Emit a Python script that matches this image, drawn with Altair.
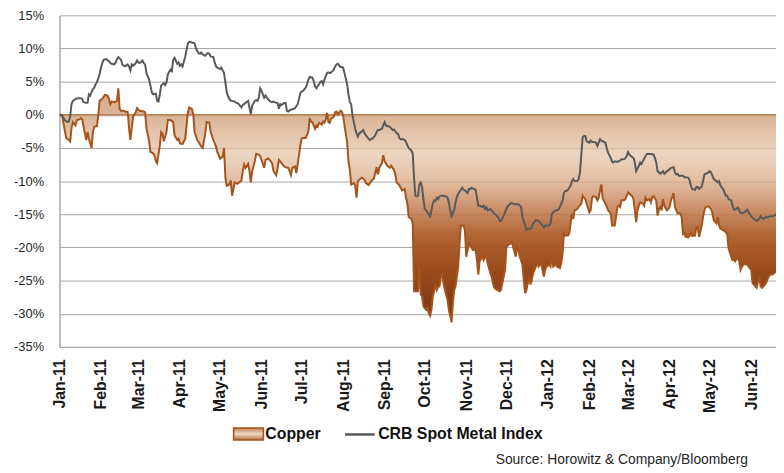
import altair as alt
import pandas as pd

# ---- data (day offset from 1 Jan 2011, % change) ----
START = pd.Timestamp("2011-01-01")
DOMAIN_END_HOURS = 12  # axis ends on 19 Jun 2012 midday

copper_day = [
    0, 2, 3, 5, 7, 8, 9, 10, 12, 13,
    15, 16, 17, 19, 20, 21, 22, 24, 25, 26,
    28, 29, 30, 32, 34, 36, 37, 38, 39, 41,
    43, 44, 45, 46, 48, 49, 51, 52, 53, 54,
    55, 57, 58, 60, 63, 64, 65, 67, 68, 70,
    71, 72, 73, 75, 76, 77, 78, 80, 81, 83,
    85, 86, 88, 89, 90, 92, 94, 95, 96, 97,
    99, 100, 101, 103, 104, 106, 107, 109, 110, 112,
    113, 115, 117, 118, 120, 122, 123, 124, 125, 127,
    128, 129, 131, 133, 136,
    137, 138, 139, 141, 142, 143, 144, 146, 147, 149,
    150, 152, 153, 154, 156, 158, 159, 160, 162, 163,
    164, 166, 168, 169, 171, 172, 173, 174, 176, 177,
    178, 180, 181, 182, 184, 186, 187, 188, 189, 191,
    192, 193, 194, 196, 197, 198, 199, 200, 201, 202,
    203, 205, 206, 207, 208, 210, 211, 212, 213, 215,
    216, 217, 218, 220, 221, 222, 223, 224, 226, 228,
    229, 231, 232, 233, 235, 237, 238, 239, 241, 242,
    243, 245, 247, 248, 250, 251, 252, 254,
    255, 256, 258, 259, 260, 261, 263, 264, 265, 266,
    268, 269, 270, 271, 272, 274, 275, 276, 277, 278,
    279, 280, 281, 282, 283, 284, 285, 286, 287, 288,
    290, 291, 292, 293, 294, 295, 296, 297, 298, 299,
    300, 302, 303, 304, 306, 307, 309, 311, 312, 313,
    314, 316, 317, 318, 319, 320, 322, 323, 324, 325,
    327, 329, 330, 332, 333, 334, 335, 337, 338, 339,
    341, 342, 343, 344, 346, 347, 348, 349, 351, 352,
    353, 354, 356, 357, 358, 360, 361, 362, 363, 364,
    366, 367, 368, 369, 371, 372, 374, 375, 376, 377,
    378, 380, 381, 382, 383, 384, 385, 387, 388, 390,
    391,
    392, 393, 394, 396, 397, 398, 399, 401, 402, 403,
    404, 405, 406, 407, 408, 409, 410, 412, 413, 414,
    415, 417, 418, 419, 420, 422, 423, 424, 425, 426,
    428, 429, 430, 431, 432, 433, 434, 436, 437, 438,
    439, 441, 442, 443, 444, 446, 447, 448, 449, 450,
    451, 452, 454, 455, 456, 457, 459, 460, 461, 462,
    464, 465, 466, 467, 468, 470, 471, 472, 473, 475,
    476, 477, 478, 480, 481, 482, 483, 485, 487, 488,
    489, 491, 492, 493, 494, 496, 498, 499, 500, 502,
    503, 504, 505, 507, 508, 509, 510, 512, 513, 514,
    515, 517, 518, 519, 520, 521, 523, 524, 525, 526,
    528, 529, 530, 531, 533, 534, 536,
]
copper_pct = [
    0.0, -0.1, -1.3, -3.5, -3.8, -4.0, -2.0, -1.1, -1.6, -0.8,
    -0.7, -0.5, -0.7, -2.8, -3.8, -2.6, -3.6, -5.0, -2.6, -1.8,
    -1.7, -0.1, 2.1, 2.4, 3.0, 2.9, 2.4, 1.6, 2.0, 1.9,
    2.1, 4.0, 0.9, 0.6, 0.6, 0.5, 0.4, -2.0, -3.8, -2.0,
    -0.3, 0.4, 1.0, 0.6, 0.5, 0.4, -2.0, -4.0, -5.6, -5.8,
    -6.1, -7.0, -7.3, -4.6, -2.6, -2.8, -4.0, -2.6, -0.8, -0.8,
    -1.1, -3.1, -3.8, -3.6, -4.3, -4.4, -3.6, -1.6, 0.4, 1.1,
    0.9, 0.1, -2.6, -3.8, -4.1, -4.8, -5.0, -2.8, -1.1, -1.2,
    -2.6, -3.8, -4.8, -5.6, -6.6, -6.3, -5.0, -9.5, -10.7, -10.5,
    -9.9, -12.2, -10.2, -10.4, -9.9,
    -8.5, -7.5, -8.0, -7.4, -8.5, -10.2, -8.5, -7.0, -5.9, -6.0,
    -6.2, -7.4, -8.0, -6.8, -6.6, -7.0, -7.4, -8.5, -9.1, -8.0,
    -6.8, -7.3, -7.8, -7.9, -8.0, -8.5, -9.1, -8.0, -7.8, -8.8,
    -7.5, -4.6, -3.6, -3.5, -3.5, -2.6, -0.5, -1.0, -1.1, -2.1,
    -1.6, -1.8, -1.2, -1.5, -1.0, -1.2, -0.7, 0.3, -1.1, -1.2,
    -0.6, -0.3, 0.4, 0.5, 0.1, 0.6, 0.5, -0.1, -1.6, -4.1,
    -7.0, -8.3, -10.5, -10.3, -10.7, -12.5, -10.0, -9.8, -9.5, -9.8,
    -10.3, -10.6, -10.3, -10.0, -9.6, -7.9, -9.0, -8.0, -7.3, -6.1,
    -7.0, -7.7, -8.0, -7.7, -8.3, -9.0, -10.2, -10.6,
    -11.0, -11.4, -11.2, -12.5, -13.4, -15.4, -15.7, -16.4, -26.6, -26.6,
    -26.6, -22.9, -27.1, -27.4, -28.9, -29.4, -29.1, -29.9, -30.3, -29.4,
    -27.4, -26.6, -25.6, -26.4, -25.9, -25.9, -24.4, -23.9, -25.4, -26.4,
    -27.9, -29.4, -30.3, -31.3, -28.4, -26.4, -25.9, -24.4, -22.9, -19.4,
    -16.7, -16.7, -17.4, -21.4, -19.4, -19.7, -20.4, -20.4, -21.9, -24.1,
    -22.1, -21.4, -21.9, -21.4, -21.4, -22.4, -23.9, -24.4, -25.4, -26.1,
    -26.4, -26.6, -26.4, -24.4, -23.4, -19.9, -19.7, -19.4, -19.2, -19.9,
    -21.4, -19.9, -20.4, -21.4, -22.6, -24.9, -26.9, -26.4, -24.4, -25.6,
    -24.9, -23.9, -22.9, -22.1, -22.9, -22.4, -23.4, -24.4, -23.4, -22.9,
    -22.6, -22.9, -20.6, -22.9, -22.6, -22.9, -23.1, -22.4, -20.9, -17.9,
    -18.2, -18.2, -17.9, -16.4, -14.9, -15.7, -14.4, -14.2, -13.9, -13.4,
    -12.2,
    -12.5, -12.7, -13.4, -14.7, -14.4, -12.5, -12.3, -12.4, -12.9, -12.5,
    -11.4, -10.5, -12.7, -13.0, -13.4, -13.9, -14.4, -14.9, -16.7, -16.7,
    -16.7, -13.9, -13.7, -13.9, -12.9, -12.9, -12.7, -12.2, -11.7, -11.9,
    -12.3, -12.7, -14.4, -16.2, -14.4, -13.7, -13.2, -13.4, -13.7, -12.5,
    -12.9, -12.7, -13.2, -12.4, -12.3, -12.9, -15.2, -14.2, -13.9, -14.4,
    -12.7, -13.7, -14.4, -14.2, -13.9, -12.9, -11.8, -13.9, -14.4, -14.9,
    -14.9, -15.4, -18.0, -17.9, -18.4, -18.5, -18.2, -17.9, -18.3, -18.2,
    -16.9, -16.9, -18.4, -16.7, -15.4, -14.4, -13.9, -13.8, -14.2, -14.9,
    -15.9, -16.4, -15.4, -16.7, -17.2, -17.4, -17.7, -18.0, -20.1, -21.4,
    -21.9, -21.9, -22.1, -21.4, -22.1, -23.4, -22.9, -22.4, -22.6, -22.4,
    -22.9, -23.4, -25.4, -25.6, -25.9, -26.1, -24.4, -25.9, -26.1, -25.9,
    -25.4, -24.9, -24.4, -24.1, -24.1, -23.9, -23.6,
]

crb_day = [
    0, 2, 3, 4, 6, 7, 8, 9, 10, 12,
    14, 16, 17, 18, 20, 21, 22, 23, 25, 26,
    27, 28, 30, 31, 32, 33, 35, 36, 37, 38,
    39, 41, 42, 43, 44, 46, 47, 48, 49, 51,
    52, 53, 54, 55, 57, 58, 59, 60, 62, 63,
    64, 65, 67, 68, 69, 70, 72, 73, 74, 75,
    76, 78, 79, 80, 81, 83, 84, 85, 86, 88,
    89, 90, 91, 92, 94, 95, 96, 97, 99, 101,
    102, 104, 105, 106, 107, 109, 110, 111, 112, 113,
    115, 116, 117, 118, 120, 121, 122, 123, 124, 125,
    126, 127, 128, 129, 131, 132, 133, 134, 136,
    137, 138, 139, 141, 142, 143, 144, 146, 147, 148,
    149, 150, 151, 152, 153, 154, 155, 157, 158, 159,
    160, 162, 163, 164, 165, 166, 168, 169, 170, 171,
    173, 174, 175, 176, 178, 179, 180, 181, 182, 184,
    185, 186, 187, 189, 190, 191, 192, 194, 195, 196,
    197, 198, 200, 201, 202, 203, 205, 206, 207, 208,
    210, 211, 212, 213, 215, 216, 217, 218, 219, 220,
    221, 222, 223, 224, 226, 227, 228, 229, 231, 232,
    233, 234, 236, 237, 238, 239, 241, 242, 243, 244,
    245, 247, 248, 249, 250, 252, 253, 254, 255, 257,
    258, 259, 260, 261, 263, 264, 265, 266, 267, 268,
    269, 270,
    271, 272, 273, 274, 275, 276, 277, 278, 279, 280,
    281, 282, 283, 284, 285, 287, 288, 289, 290, 291,
    292, 293, 294, 295, 296, 297, 298, 300, 301, 302,
    303, 305, 306, 307, 308, 310, 311, 312, 313, 314,
    316, 317, 318, 319, 320, 322, 323, 324, 325, 327,
    328, 329, 330, 332, 333, 334, 335, 337, 338, 339,
    340, 341, 343, 344, 345, 346, 348, 349, 350, 351,
    352, 353, 354, 356, 357, 358, 359, 361, 362, 363,
    364, 366, 367, 368, 369, 371, 372, 373, 374, 376,
    377, 378, 379, 380, 382, 383, 384, 385, 387, 388,
    389, 390, 391,
    392, 393, 394, 396, 397, 398, 399, 401, 402, 403,
    404, 405, 407, 408, 409, 410, 412, 413, 414, 415,
    417, 418, 419, 420, 422, 423, 424, 425, 426, 428,
    429, 430, 431, 433, 434, 435, 436, 438, 439, 440,
    441, 442, 444, 445, 446, 447, 449, 450, 451, 452,
    454, 455, 456, 457, 459, 460, 461, 462, 463, 465,
    466, 467, 468, 470, 471, 472, 473, 475, 476, 477,
    478, 480, 481, 482, 483, 485, 486, 487, 488, 489,
    491, 492, 493, 494, 496, 497, 498, 499, 500, 502,
    503, 504, 505, 507, 508, 509, 510, 512, 513, 514,
    515, 517, 518, 519, 520, 521, 523, 524, 525, 526,
    528, 529, 530, 531, 533, 534, 536,
]
crb_pct = [
    0.0, -0.1, -0.5, -0.8, -1.1, -1.0, -0.3, 1.6, 2.1, 2.4,
    2.5, 2.5, 2.4, 1.9, 1.8, 1.8, 3.1, 2.9, 3.9, 4.1,
    4.6, 4.9, 6.1, 7.1, 7.8, 8.3, 8.4, 8.2, 8.1, 7.8,
    7.7, 7.6, 7.9, 8.4, 8.7, 8.3, 7.6, 7.4, 7.3, 7.6,
    7.3, 6.7, 7.6, 7.4, 7.8, 8.2, 7.9, 7.8, 8.2, 7.8,
    7.6, 6.3, 5.3, 4.4, 3.4, 3.1, 3.2, 2.1, 2.0, 3.1,
    4.4, 4.8, 4.5, 4.9, 6.1, 6.8, 6.6, 8.3, 8.6, 7.7,
    7.9, 7.4, 7.6, 7.3, 8.8, 9.8, 10.8, 11.0, 10.9, 10.8,
    10.0, 9.3, 9.2, 9.4, 9.1, 8.9, 9.2, 9.3, 9.2, 8.8,
    8.7, 7.9, 7.3, 7.1, 6.9, 7.1, 6.7, 6.3, 4.9, 3.4,
    2.8, 2.4, 2.1, 2.1, 2.0, 1.8, 1.8, 1.6, 1.1,
    1.5, 1.6, 1.8, 2.1, 1.1, 0.1, 1.4, 2.1, 2.2, 2.1,
    2.6, 4.0, 3.6, 3.1, 2.6, 2.9, 2.6, 2.1, 2.0, 1.9,
    2.0, 1.8, 1.8, 0.9, 1.6, 1.5, 1.8, 1.8, 0.6, 0.5,
    0.8, 0.8, 0.9, 1.0, 1.6, 2.4, 3.3, 3.5, 3.6, 4.1,
    4.6, 5.3, 5.7, 5.6, 5.1, 4.3, 4.0, 4.6, 5.0, 5.1,
    4.6, 5.3, 6.3, 6.4, 6.3, 6.4, 6.8, 7.3, 7.6, 7.7,
    7.2, 7.2, 7.1, 6.3, 4.6, 3.1, 1.9, 1.6, -0.1, -1.1,
    -2.1, -2.8, -3.3, -2.8, -2.5, -2.3, -2.8, -3.1, -3.6, -3.8,
    -3.6, -3.6, -3.1, -2.6, -2.3, -2.3, -2.1, -1.6, -1.1, -1.6,
    -1.7, -1.8, -2.1, -2.3, -2.2, -2.8, -2.8, -3.5, -3.7, -3.7,
    -3.8, -4.1, -4.6, -5.0, -5.4, -5.8, -9.5, -12.2, -12.3, -12.2,
    -10.5, -10.2,
    -10.9, -12.7, -14.2, -14.4, -14.7, -15.0, -15.3, -14.4, -13.4, -12.9,
    -13.0, -12.5, -12.7, -12.3, -12.2, -12.2, -12.3, -12.3, -12.5, -13.2,
    -14.4, -15.3, -14.9, -14.3, -13.2, -12.4, -11.9, -11.3, -11.0, -11.3,
    -11.4, -11.8, -11.2, -11.2, -11.0, -11.2, -11.3, -12.5, -13.7, -13.7,
    -13.9, -13.7, -14.2, -13.9, -14.4, -14.2, -14.4, -14.7, -14.9, -15.3,
    -15.5, -16.0, -16.0, -15.2, -14.7, -14.2, -13.8, -13.4, -13.3, -13.4,
    -13.5, -13.5, -13.5, -13.7, -13.9, -15.4, -16.7, -17.4, -17.2, -17.2,
    -17.2, -16.9, -16.4, -15.9, -15.9, -16.0, -16.2, -16.7, -17.0, -16.7,
    -16.7, -16.7, -16.4, -14.9, -14.7, -14.4, -14.4, -14.3, -13.9, -12.9,
    -11.8, -11.5, -11.5, -11.3, -10.7, -10.0, -9.7, -10.0, -10.0, -9.7,
    -8.7, -6.0, -3.4,
    -3.2, -3.2, -4.0, -4.2, -3.9, -4.1, -4.1, -4.2, -4.7, -4.2,
    -3.7, -3.9, -4.1, -4.2, -5.0, -5.7, -6.5, -7.1, -7.2, -7.0,
    -7.1, -7.0, -6.9, -6.7, -6.7, -6.5, -6.2, -5.6, -6.0, -6.4,
    -6.5, -7.2, -8.5, -7.7, -7.2, -7.4, -7.0, -6.2, -5.9, -5.9,
    -5.9, -5.9, -6.0, -6.5, -7.2, -8.5, -8.9, -8.7, -8.5, -8.9,
    -8.5, -8.4, -8.2, -8.0, -7.9, -8.7, -9.0, -8.9, -9.2, -9.2,
    -9.2, -9.4, -9.4, -9.5, -9.9, -10.8, -11.2, -11.3, -10.9, -10.9,
    -11.2, -10.8, -10.0, -9.0, -8.9, -8.7, -8.5, -8.7, -9.2, -9.7,
    -10.0, -10.2, -10.0, -10.7, -11.2, -11.7, -12.2, -12.2, -12.7, -12.9,
    -13.7, -14.3, -14.3, -14.0, -14.4, -14.8, -14.8, -14.7, -14.5, -14.3,
    -14.7, -15.3, -15.5, -15.7, -15.8, -16.0, -15.7, -15.3, -15.5, -15.7,
    -15.4, -15.5, -15.4, -15.3, -15.3, -15.2, -15.0,
]

assert len(copper_day) == len(copper_pct)
assert len(crb_day) == len(crb_pct)

SERIES = ["Copper", "CRB Spot Metal Index"]
COLORS = ["#a5541b", "#595959"]
Y_TICKS = list(range(-35, 16, 5))
ZERO_LINE = [0]
SOURCE = "Source: Horowitz & Company/Bloomberg"

FONT = "Liberation Sans, Arial, sans-serif"


def iso(d):
    return (START + pd.Timedelta(days=d)).strftime("%Y-%m-%d")


copper_df = pd.DataFrame({"date": [iso(d) for d in copper_day], "pct": copper_pct, "series": SERIES[0]})
crb_df = pd.DataFrame({"date": [iso(d) for d in crb_day], "pct": crb_pct, "series": SERIES[1]})

# gradient of the copper area, anchored to values (area bbox spans max..min)
top = max(max(copper_pct), 0.0)
bottom = min(min(copper_pct), 0.0)


def off(v):
    return round(min(max((top - v) / (top - bottom), 0.0), 1.0), 4)


fill_stops = [
    (top, "rgba(203,147,107,0.75)"),
    (0, "rgba(206,154,115,0.75)"),
    (-6, "rgba(230,199,172,0.75)"),
    (-10, "rgba(216,168,131,0.75)"),
    (-14, "rgba(192,121,76,0.82)"),
    (-18, "rgba(172,89,36,0.92)"),
    (-23, "#9c4c1c"),
    (-28, "#843e16"),
    (bottom, "#763614"),
]
area_gradient = alt.LinearGradient(
    gradient="linear",
    stops=[alt.GradientStop(offset=off(v), color=c) for v, c in fill_stops],
    x1=0, x2=0, y1=0, y2=1,
)
swatch_stops = [(0, "#bf7f52"), (0.5, "#f0d9c4"), (1, "#b0703f")]
swatch_expr = (
    "{gradient: 'linear', x1: 0, y1: 0, x2: 0, y2: 1, stops: ["
    + ", ".join("{offset: %s, color: '%s'}" % (o, c) for o, c in swatch_stops)
    + "]}"
)

x_enc = alt.X(
    "date:T",
    title=None,
    scale=alt.Scale(
        type="utc",
        domain=[
            alt.DateTime(year=2011, month=1, date=1, utc=True),
            alt.DateTime(year=2012, month=6, date=19, hours=DOMAIN_END_HOURS, utc=True),
        ],
    ),
    axis=alt.Axis(
        format="%b-%y",
        tickCount=alt.TimeIntervalStep(interval="month", step=1),
        labelAngle=270,
        labelFont=FONT,
        labelFontSize=16,
        labelFontWeight="bold",
        labelColor="#1a1a1a",
        labelPadding=12,
        labelFlush=False,
        labelOverlap=False,
        labelBound=False,
        ticks=False,
        grid=False,
        domainColor="#a6a6a6",
        domainWidth=1,
    ),
)
y_enc = alt.Y(
    "pct:Q",
    title=None,
    scale=alt.Scale(domain=[-35, 15], nice=False, zero=False),
    axis=alt.Axis(
        values=Y_TICKS,
        tickCount=len(Y_TICKS) + 5,
        labelExpr="datum.value + '%'",
        labelFont=FONT,
        labelFontSize=13,
        labelColor="#262626",
        labelPadding=16,
        labelOverlap=False,
        labelBound=False,
        ticks=False,
        grid=True,
        gridColor="#a6a6a6",
        gridWidth=1,
        domainColor="#a6a6a6",
        domainWidth=1.5,
    ),
)

LEGEND_COMMON = dict(
    title=None,
    orient="none",
    direction="horizontal",
    labelFont=FONT,
    labelFontSize=16,
    labelFontWeight="bold",
    labelColor="#111111",
    labelLimit=400,
    legendY=407,
    symbolSize=900,
)


def build(gradient_swatch):
    swatch_range = [alt.ExprRef(expr=swatch_expr)] if gradient_swatch else ["#dcb394"]
    # Copper legend entry carried by an invisible layer (area keeps its own gradient)
    copper_key = (
        alt.Chart(copper_df.head(1))
        .mark_square(opacity=0, size=1)
        .encode(
            x=x_enc,
            y=y_enc,
            fill=alt.Fill(
                "series:N",
                scale=alt.Scale(domain=[SERIES[0]], range=swatch_range),
                legend=alt.Legend(
                    legendX=175,
                    labelOffset=1,
                    symbolType="M-1,-0.4H1V0.4H-1Z",
                    symbolOpacity=1,
                    symbolStrokeColor=COLORS[0],
                    symbolStrokeWidth=1.6,
                    **LEGEND_COMMON,
                ),
            ),
        )
    )
    area = (
        alt.Chart(copper_df)
        .mark_area(fill=area_gradient, clip=True)
        .encode(x=x_enc, y=y_enc, y2=alt.datum(0))
    )
    zero = (
        alt.Chart(pd.DataFrame({"v": ZERO_LINE}))
        .mark_rule(color="#b5835a", strokeWidth=1.5)
        .encode(y=alt.Y("v:Q"))
    )
    copper_line = (
        alt.Chart(copper_df)
        .mark_line(strokeWidth=2, clip=True, color=COLORS[0])
        .encode(x=x_enc, y=y_enc)
    )
    crb_line = (
        alt.Chart(crb_df)
        .mark_line(strokeWidth=2, clip=True)
        .encode(
            x=x_enc,
            y=y_enc,
            stroke=alt.Stroke(
                "series:N",
                scale=alt.Scale(domain=[SERIES[1]], range=[COLORS[1]]),
                legend=alt.Legend(
                    legendX=287,
                    labelOffset=2,
                    symbolType="stroke",
                    symbolStrokeWidth=2.5,
                    **LEGEND_COMMON,
                ),
            ),
        )
    )

    chart = (
        alt.layer(area, zero, copper_line, crb_line, copper_key)
        .resolve_scale(fill="independent", stroke="independent")
        .properties(
            width=724,
            height=335,
            autosize=alt.AutoSizeParams(type="none"),
            padding={"left": 52, "top": 5, "right": 0, "bottom": 125},
            background="white",
            title=alt.TitleParams(
                text=SOURCE,
                orient="bottom",
                anchor="end",
                font=FONT,
                fontSize=14,
                fontWeight="normal",
                color="#262626",
                offset=9,
                dx=-29,
            ),
        )
        .configure_view(strokeWidth=0)
    )
    return chart


try:
    chart = build(True)
    chart.to_dict()
except Exception as exc:
    print("gradient swatch refused:", str(exc)[:300])
    chart = build(False)

chart.save("out.html", embed_options={"renderer": "svg", "actions": False})
